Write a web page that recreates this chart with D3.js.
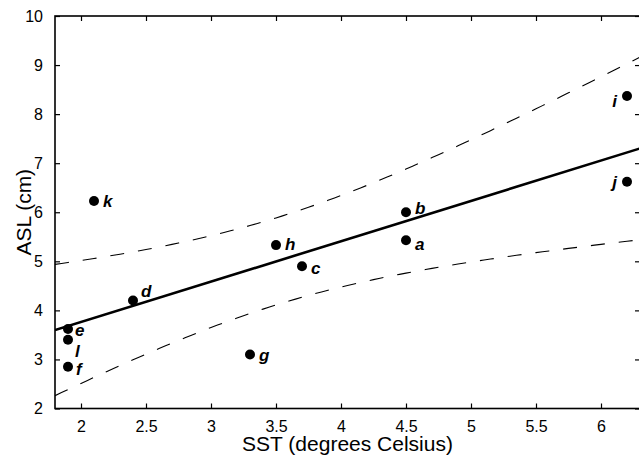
<!DOCTYPE html>
<html>
<head>
<meta charset="utf-8">
<script src="https://cdn.jsdelivr.net/npm/d3@7"></script>
<style>
  body { margin: 0; background: #fff; }
  svg { display: block; font-family: "Liberation Sans", Arial, sans-serif; }
</style>
</head>
<body>
<svg id="chart" width="639" height="455"></svg>
<script>
// Station data
const siteLabels = ["a", "b", "c", "d", "e", "f", "g", "h", "i", "j", "k", "l"];
const sstValues = [4.5, 4.5, 3.7, 2.4, 1.9, 1.9, 3.3, 3.5, 6.2, 6.2, 2.1, 1.9];
const aslValues = [5.43, 6.0, 4.9, 4.2, 3.62, 2.85, 3.1, 5.33, 8.37, 6.62, 6.23, 3.4];

// Tick values
const xTicks = [2, 2.5, 3, 3.5, 4, 4.5, 5, 5.5, 6];
const yTicks = [2, 3, 4, 5, 6, 7, 8, 9, 10];

// Label nudges [dx, dy] relative to each dot
const labelOffsets = [[9, 10], [9, 2], [9, 8], [8, -4], [7, 7], [8, 8],
                      [9, 6], [9, 5], [-10, 11], [-10, 6], [9, 6], [7, 17]];

// Working-Hotelling band: F(0.95; 2, n-2)
const fCritical = 4.10;

const svg = d3.select("#chart");
const margin = { left: 55, top: 16, right: 640, bottom: 408.5 };

const x = d3.scaleLinear().domain([1.8, 6.3]).range([margin.left, margin.right]);
const y = d3.scaleLinear().domain([2, 10]).range([margin.bottom, margin.top]);

// Least squares fit
const n = sstValues.length;
const xMean = d3.mean(sstValues);
const yMean = d3.mean(aslValues);
const sxx = d3.sum(sstValues, v => (v - xMean) ** 2);
const sxy = d3.sum(sstValues, (v, i) => (v - xMean) * (aslValues[i] - yMean));
const slope = sxy / sxx;
const intercept = yMean - slope * xMean;
const sse = d3.sum(sstValues, (v, i) => (aslValues[i] - (intercept + slope * v)) ** 2);
const s = Math.sqrt(sse / (n - 2));
const w = Math.sqrt(2 * fCritical);

const xs = d3.range(1.8, 6.3001, 0.05);
const band = sign => xs.map(v => [v, intercept + slope * v +
  sign * w * s * Math.sqrt(1 / n + (v - xMean) ** 2 / sxx)]);

svg.append("clipPath").attr("id", "plot-clip")
  .append("rect")
  .attr("x", margin.left).attr("y", margin.top)
  .attr("width", margin.right - margin.left)
  .attr("height", margin.bottom - margin.top);

const plot = svg.append("g").attr("clip-path", "url(#plot-clip)");
const line = d3.line().x(d => x(d[0])).y(d => y(d[1]));

// Confidence band
[1, -1].forEach(sign => {
  plot.append("path")
    .attr("d", line(band(sign)))
    .attr("fill", "none")
    .attr("stroke", "#000")
    .attr("stroke-width", 1.1)
    .attr("stroke-dasharray", "14,14");
});

// Regression line
plot.append("path")
  .attr("d", line([[1.8, intercept + slope * 1.8], [6.3, intercept + slope * 6.3]]))
  .attr("fill", "none")
  .attr("stroke", "#000")
  .attr("stroke-width", 2.6);

// Dots and labels
const points = siteLabels.map((label, i) => ({ label, sst: sstValues[i], asl: aslValues[i], off: labelOffsets[i] }));

svg.append("g").selectAll("circle")
  .data(points)
  .join("circle")
  .attr("cx", d => x(d.sst))
  .attr("cy", d => y(d.asl))
  .attr("r", 5)
  .attr("fill", "#000");

svg.append("g").selectAll("text")
  .data(points)
  .join("text")
  .attr("x", d => x(d.sst) + d.off[0])
  .attr("y", d => y(d.asl) + d.off[1])
  .attr("text-anchor", d => d.off[0] < 0 ? "end" : "start")
  .attr("font-size", 17)
  .attr("font-weight", "bold")
  .attr("font-style", "italic")
  .text(d => d.label);

// Axes: ticks point inward on all four sides
const tickLen = 5;
const axisStyle = g => {
  g.select(".domain").remove();
  g.selectAll("line").attr("stroke", "#000").attr("stroke-width", 1.2);
  g.selectAll("text").attr("font-size", 16).attr("fill", "#000");
};

svg.append("g")
  .attr("transform", `translate(0,${margin.bottom})`)
  .call(d3.axisBottom(x).tickValues(xTicks).tickSize(-tickLen).tickPadding(12).tickFormat(d3.format("")))
  .call(axisStyle);

svg.append("g")
  .attr("transform", `translate(0,${margin.top})`)
  .call(d3.axisTop(x).tickValues(xTicks).tickSize(-tickLen).tickFormat(""))
  .call(axisStyle);

svg.append("g")
  .attr("transform", `translate(${margin.left},0)`)
  .call(d3.axisLeft(y).tickValues(yTicks).tickSize(-tickLen).tickPadding(12).tickFormat(d3.format("")))
  .call(axisStyle);

svg.append("g")
  .attr("transform", `translate(${margin.right},0)`)
  .call(d3.axisRight(y).tickValues(yTicks).tickSize(-tickLen).tickFormat(""))
  .call(axisStyle);

// Frame
svg.append("rect")
  .attr("x", margin.left).attr("y", margin.top)
  .attr("width", margin.right - margin.left)
  .attr("height", margin.bottom - margin.top)
  .attr("fill", "none")
  .attr("stroke", "#000")
  .attr("stroke-width", 1.6);

// Axis titles
svg.append("text")
  .attr("x", (margin.left + margin.right) / 2)
  .attr("y", 451)
  .attr("text-anchor", "middle")
  .attr("font-size", 21)
  .text("SST (degrees Celsius)");

svg.append("text")
  .attr("transform", `translate(31,${(margin.top + margin.bottom) / 2}) rotate(-90)`)
  .attr("text-anchor", "middle")
  .attr("font-size", 21)
  .text("ASL (cm)");
</script>
</body>
</html>
